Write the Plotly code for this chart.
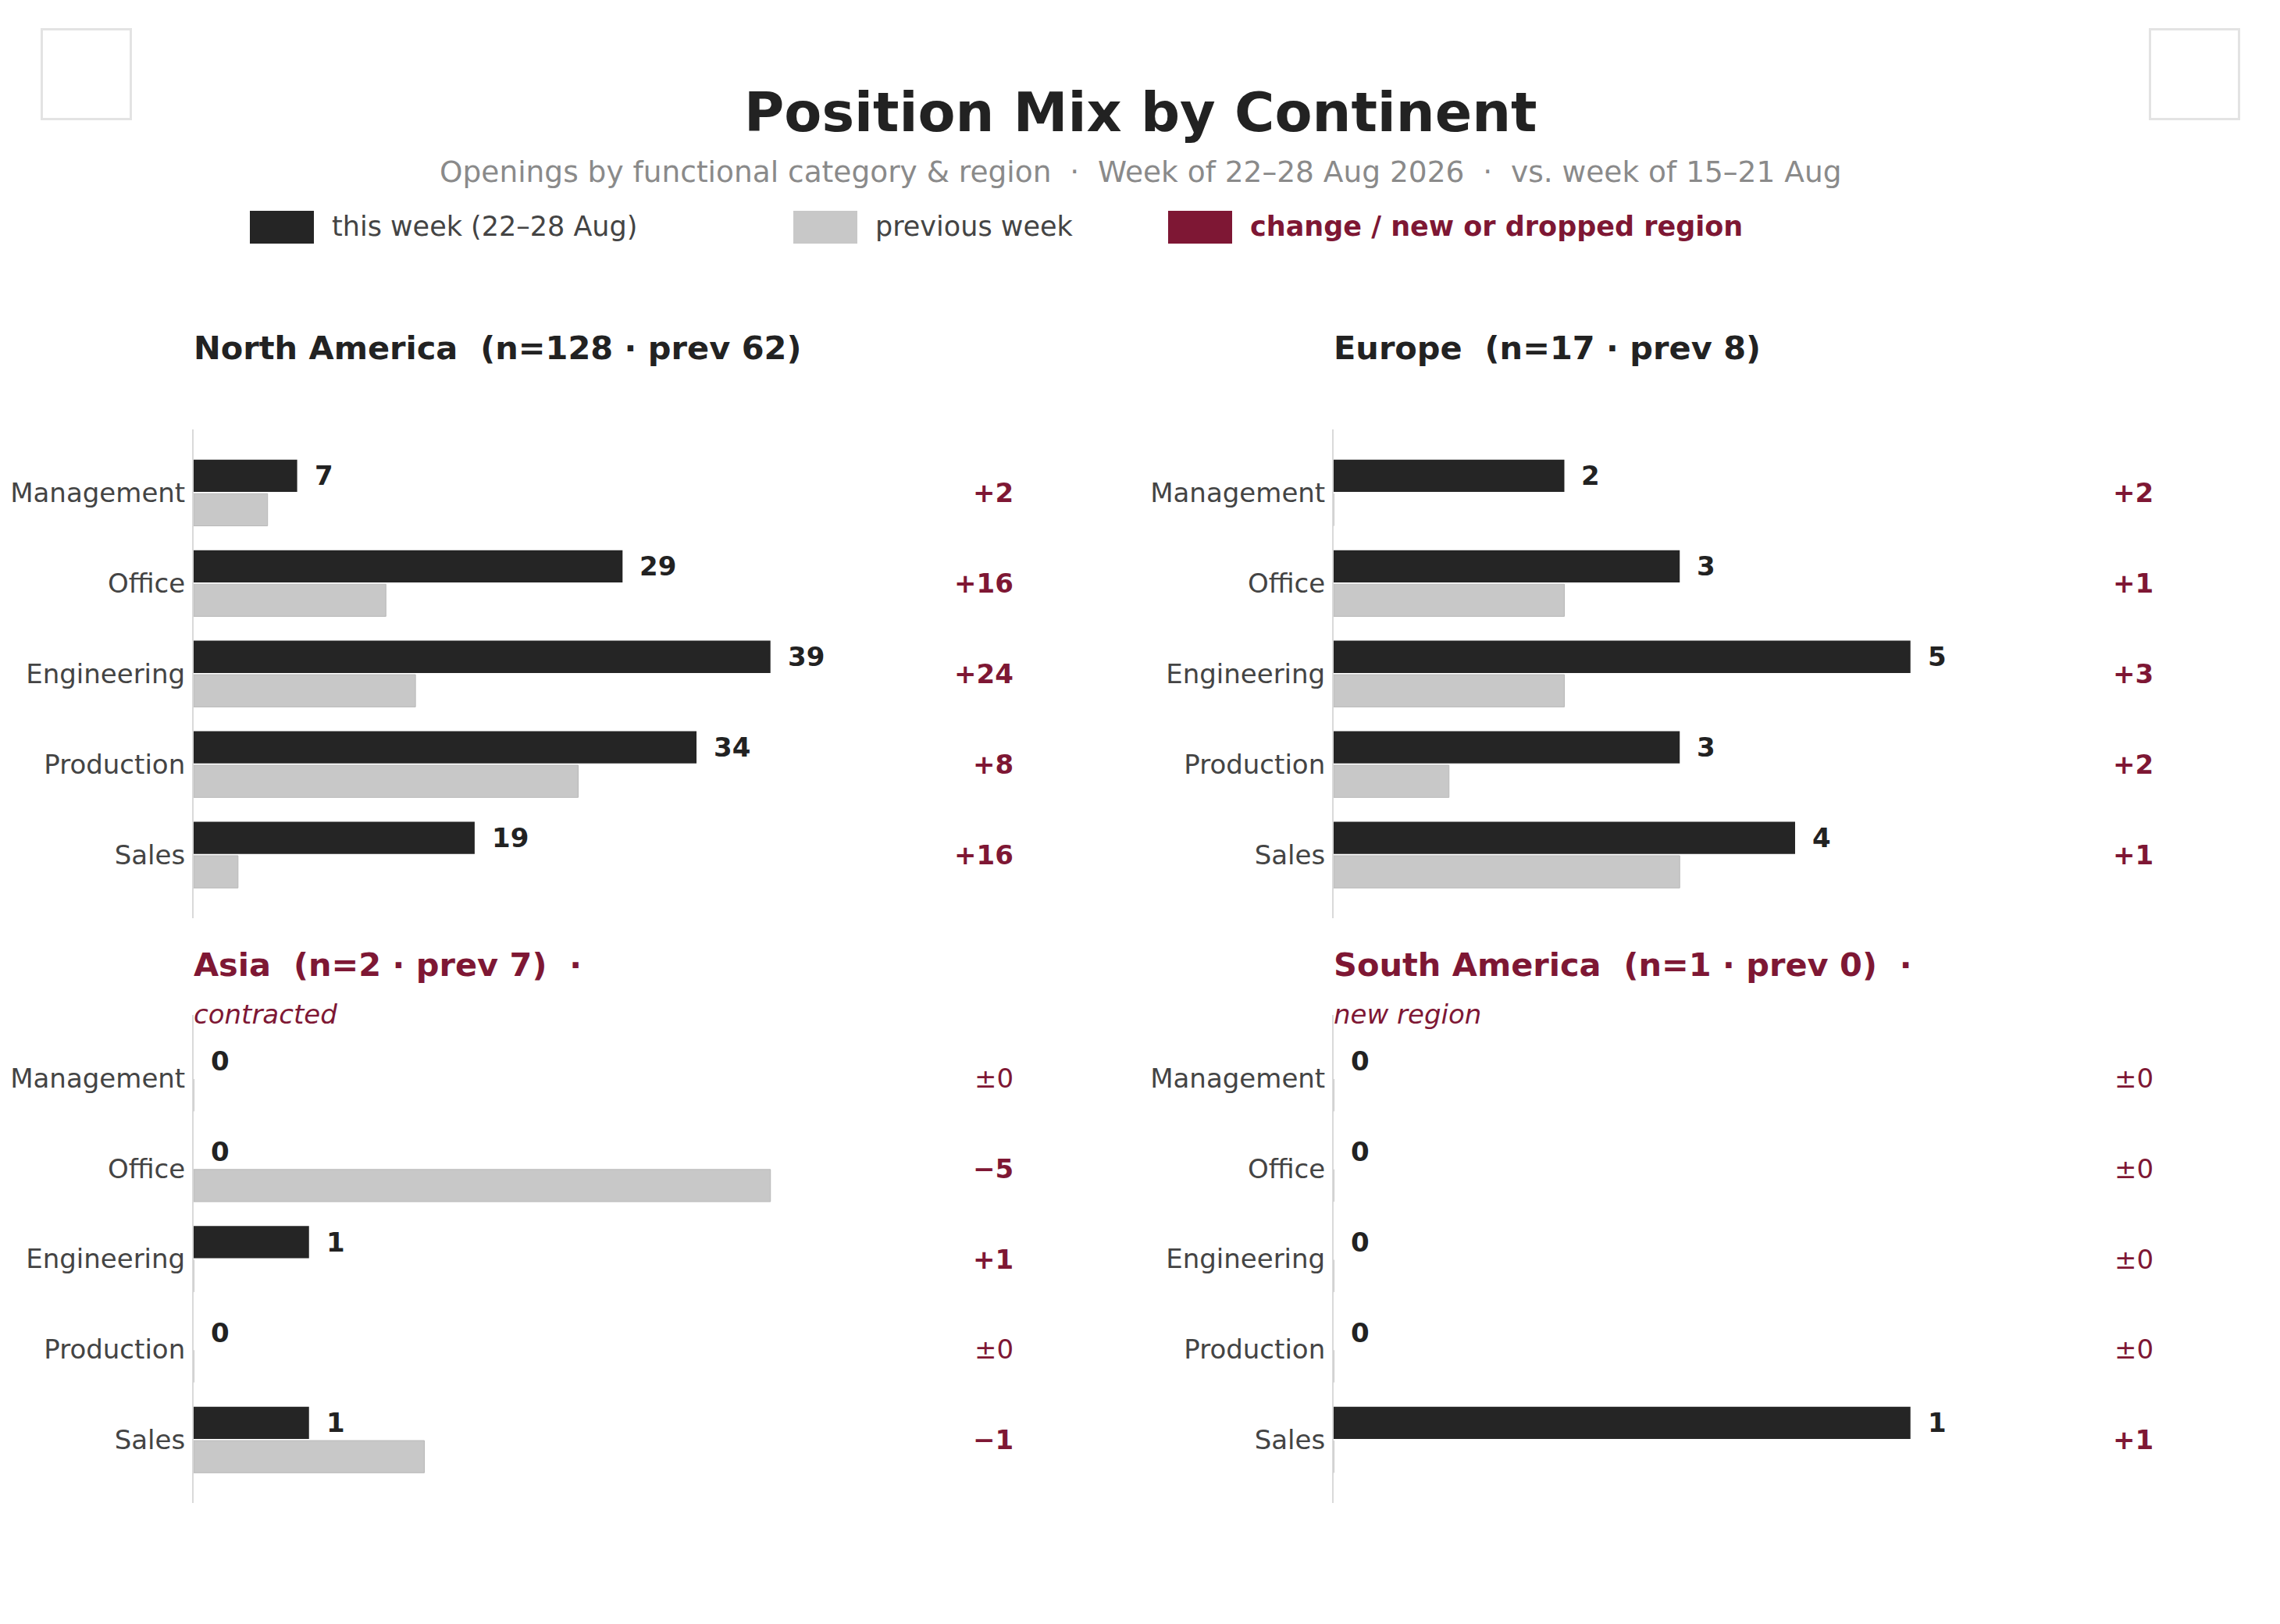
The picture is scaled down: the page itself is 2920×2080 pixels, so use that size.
import plotly.graph_objects as go

# data
categories = ["Management", "Office", "Engineering", "Production", "Sales"]
regions = ["North America", "Europe", "Asia", "South America"]
region_notes = ["", "", "contracted", "new region"]

na_this = [7, 29, 39, 34, 19]
na_prev = [5, 13, 15, 26, 3]
eu_this = [2, 3, 5, 3, 4]
eu_prev = [0, 2, 2, 1, 3]
as_this = [0, 0, 1, 0, 1]
as_prev = [0, 5, 0, 0, 2]
sa_this = [0, 0, 0, 0, 1]
sa_prev = [0, 0, 0, 0, 0]

this_week = [na_this, eu_this, as_this, sa_this]
prev_week = [na_prev, eu_prev, as_prev, sa_prev]

legend_labels = ["this week (22–28 Aug)", "previous week", "change / new or dropped region"]

DARK = "#252525"
GREY = "#c8c8c8"
CRIMSON = "#7e1734"
FONT = "DejaVu Sans"

W, H = 2920, 2080
OFF = 8  # page body margin, the figure sits 8px in from the window corner


def fx(px):
    return (px - OFF) / W


def fy(py):
    return 1 - (py - OFF) / H


# pixel boxes of the four panels (left, right, top, bottom)
panel_x = [(248, 1297), (1708, 2757), (248, 1297), (1708, 2757)]
panel_y = [(550, 1176), (550, 1176), (1300, 1925), (1300, 1925)]

BARGAP = 0.25
DARK_OFFSET = -(1 - BARGAP) / 4  # centre of the first bar in a group

fig = go.Figure()
annotations = []
shapes = []

for i, region in enumerate(regions):
    s = "" if i == 0 else str(i + 1)
    cur = this_week[i]
    prev = prev_week[i]

    fig.add_trace(go.Bar(
        y=categories, x=cur, orientation="h", xaxis="x" + s, yaxis="y" + s,
        marker_color=DARK, marker_line_width=0, showlegend=False,
        hovertemplate="%{y}: %{x}<extra>this week</extra>",
    ))
    fig.add_trace(go.Bar(
        y=categories, x=prev, orientation="h", xaxis="x" + s, yaxis="y" + s,
        marker_color=GREY, marker_line_color="#b8b8b8", marker_line_width=1,
        showlegend=False,
        hovertemplate="%{y}: %{x}<extra>previous week</extra>",
    ))

    x0, x1 = panel_x[i]
    y0, y1 = panel_y[i]
    xmax = max(max(cur), max(prev))
    fig.update_layout(**{
        "xaxis" + s: dict(domain=[fx(x0), fx(x1)], range=[0, xmax * 1.42],
                          visible=False, anchor="y" + s, fixedrange=True),
        "yaxis" + s: dict(domain=[fy(y1), fy(y0)], anchor="x" + s,
                          type="category", categoryorder="array",
                          categoryarray=categories, range=[4.7, -0.7],
                          showline=True, linecolor="#d9d9d9", linewidth=2,
                          showgrid=False, zeroline=False, ticks="",
                          ticklabelstandoff=2,
                          tickfont=dict(size=34, color="#444444", family=FONT)),
    })

    for j, cat in enumerate(categories):
        annotations.append(dict(
            x=cur[j], y=j + DARK_OFFSET, xref="x" + s, yref="y" + s,
            text=f"<b>{cur[j]}</b>", showarrow=False, xanchor="left",
            yanchor="middle", xshift=20,
            font=dict(size=34, color="#222222", family=FONT),
        ))
        d = cur[j] - prev[j]
        if d > 0:
            dtxt = f"<b>+{d}</b>"
        elif d < 0:
            dtxt = f"<b>\u2212{abs(d)}</b>"
        else:
            dtxt = "±0"
        annotations.append(dict(
            x=1, y=j, xref="x" + s + " domain", yref="y" + s,
            text=dtxt, showarrow=False, xanchor="right", yanchor="middle",
            xshift=3,
            font=dict(size=34, color=CRIMSON, family=FONT),
        ))

    # panel heading
    flagged = region_notes[i] != ""
    head = f"{region}  (n={sum(cur)} · prev {sum(prev)})"
    if flagged:
        head += "  ·"
    head_y = 445 if i < 2 else 1235
    annotations.append(dict(
        x=fx(x0), y=fy(head_y), xref="paper", yref="paper",
        text=f"<b>{head}</b>", showarrow=False, xanchor="left", yanchor="middle",
        xshift=-2,
        font=dict(size=41.5, color=CRIMSON if flagged else "#222222", family=FONT),
    ))
    if flagged:
        annotations.append(dict(
            x=fx(x0), y=fy(1299), xref="paper", yref="paper",
            text=f"<i>{region_notes[i]}</i>", showarrow=False,
            xanchor="left", yanchor="middle", xshift=-2,
            font=dict(size=34, color=CRIMSON, family=FONT),
        ))

# title and subtitle
annotations.append(dict(
    x=fx(1460), y=fy(144), xref="paper", yref="paper",
    text="<b>Position Mix by Continent</b>", showarrow=False,
    xanchor="center", yanchor="middle",
    font=dict(size=70, color="#222222", family=FONT),
))
annotations.append(dict(
    x=fx(1460), y=fy(220), xref="paper", yref="paper",
    text="Openings by functional category & region  ·  Week of 22–28 Aug 2026  ·  vs. week of 15–21 Aug",
    showarrow=False, xanchor="center", yanchor="middle",
    font=dict(size=37.5, color="#8a8a8a", family=FONT),
))

# hand-made legend
legend_colors = [DARK, GREY, CRIMSON]
legend_x = [320, 1016, 1496]
for k, lab in enumerate(legend_labels):
    lx = legend_x[k]
    shapes.append(dict(type="rect", xref="paper", yref="paper",
                       x0=fx(lx), x1=fx(lx + 82), y0=fy(312), y1=fy(270),
                       fillcolor=legend_colors[k], line_width=0))
    is_change = k == 2
    annotations.append(dict(
        x=fx(lx + 103), y=fy(290), xref="paper", yref="paper",
        text=f"<b>{lab}</b>" if is_change else lab, showarrow=False,
        xanchor="left", yanchor="middle",
        font=dict(size=35, color=CRIMSON if is_change else "#444444", family=FONT),
    ))

# the two empty corner frames
for bx in (52, 2752):
    shapes.append(dict(type="rect", xref="paper", yref="paper",
                       x0=fx(bx + 1.5), x1=fx(bx + 115.5), y0=fy(152.5), y1=fy(37.5),
                       line=dict(color="#e3e3e3", width=3), fillcolor="rgba(0,0,0,0)"))

fig.update_layout(
    width=W, height=H,
    margin=dict(l=0, r=0, t=0, b=0),
    barmode="group", bargap=BARGAP, bargroupgap=0.05,
    plot_bgcolor="white", paper_bgcolor="white",
    font=dict(family=FONT, color="#222222"),
    annotations=annotations, shapes=shapes,
    showlegend=False,
)

fig.write_html("out.html")
